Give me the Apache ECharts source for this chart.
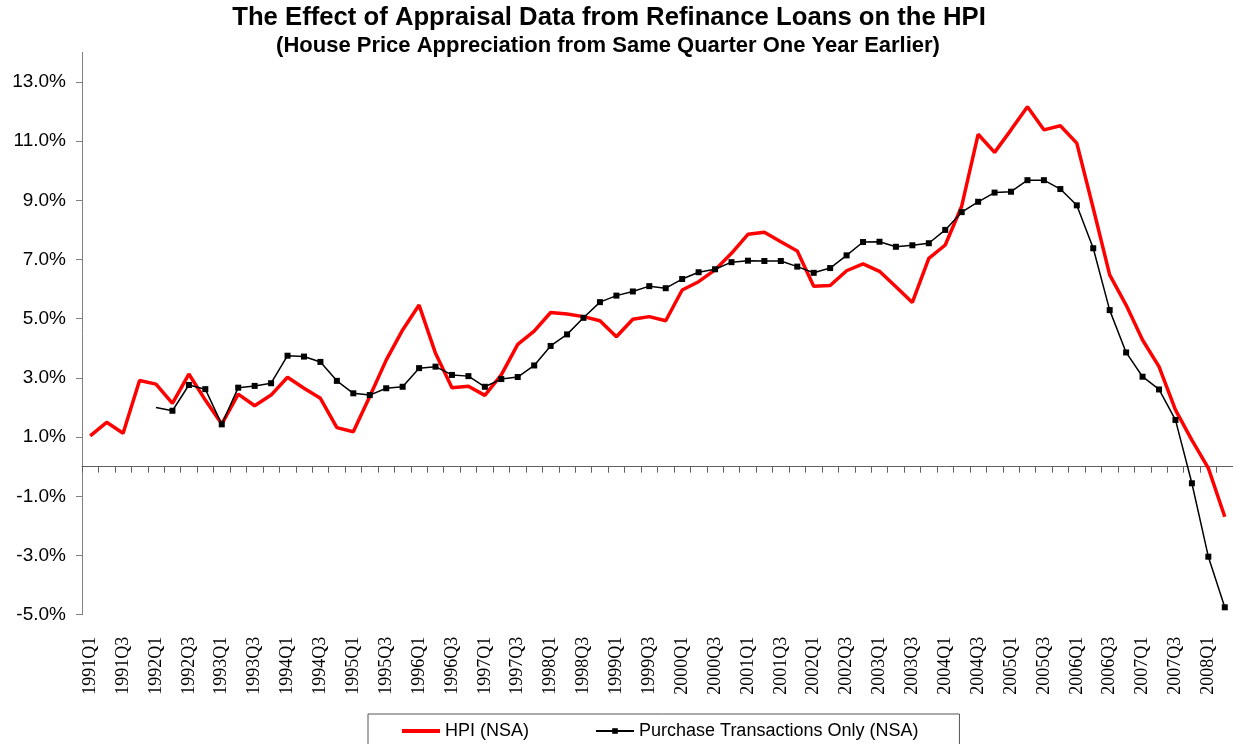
<!DOCTYPE html>
<html>
<head>
<meta charset="utf-8">
<script src="https://cdn.jsdelivr.net/npm/echarts@6/dist/echarts.min.js"></script>
<style>
  html, body { margin: 0; padding: 0; background: #fff; }
  #chart { width: 1233px; height: 744px; }
</style>
</head>
<body>
<div id="chart"></div>
<script>
const quarters = [
  "1991Q1", "1991Q2", "1991Q3", "1991Q4", "1992Q1", "1992Q2", "1992Q3", "1992Q4",
  "1993Q1", "1993Q2", "1993Q3", "1993Q4", "1994Q1", "1994Q2", "1994Q3", "1994Q4",
  "1995Q1", "1995Q2", "1995Q3", "1995Q4", "1996Q1", "1996Q2", "1996Q3", "1996Q4",
  "1997Q1", "1997Q2", "1997Q3", "1997Q4", "1998Q1", "1998Q2", "1998Q3", "1998Q4",
  "1999Q1", "1999Q2", "1999Q3", "1999Q4", "2000Q1", "2000Q2", "2000Q3", "2000Q4",
  "2001Q1", "2001Q2", "2001Q3", "2001Q4", "2002Q1", "2002Q2", "2002Q3", "2002Q4",
  "2003Q1", "2003Q2", "2003Q3", "2003Q4", "2004Q1", "2004Q2", "2004Q3", "2004Q4",
  "2005Q1", "2005Q2", "2005Q3", "2005Q4", "2006Q1", "2006Q2", "2006Q3", "2006Q4",
  "2007Q1", "2007Q2", "2007Q3", "2007Q4", "2008Q1", "2008Q2"
];

// year-over-year appreciation, percent
const hpiNsa = [
  1.04, 1.50, 1.13, 2.91, 2.79, 2.14, 3.13, 2.25,
  1.44, 2.45, 2.06, 2.42, 3.02, 2.65, 2.31, 1.32,
  1.18, 2.37, 3.60, 4.62, 5.46, 3.83, 2.67, 2.72,
  2.41, 3.10, 4.13, 4.58, 5.21, 5.16, 5.07, 4.93,
  4.39, 4.98, 5.07, 4.93, 5.97, 6.25, 6.65, 7.21,
  7.85, 7.92, 7.60, 7.29, 6.10, 6.12, 6.62, 6.85,
  6.60, 6.08, 5.55, 7.04, 7.49, 8.80, 11.23, 10.62,
  11.38, 12.16, 11.38, 11.52, 10.93, 8.73, 6.48, 5.46,
  4.28, 3.38, 1.92, 0.90, -0.05, -1.69
];

const purchaseOnly = [
  null, null, null, null, 2.00, 1.89, 2.76, 2.62,
  1.43, 2.67, 2.73, 2.82, 3.75, 3.72, 3.54, 2.90,
  2.48, 2.42, 2.65, 2.70, 3.33, 3.38, 3.10, 3.06,
  2.70, 2.96, 3.03, 3.42, 4.08, 4.47, 5.03, 5.56,
  5.78, 5.92, 6.10, 6.03, 6.34, 6.57, 6.67, 6.91,
  6.96, 6.95, 6.95, 6.76, 6.55, 6.71, 7.14, 7.59,
  7.60, 7.43, 7.48, 7.55, 8.00, 8.60, 8.95, 9.26,
  9.29, 9.68, 9.68, 9.38, 8.83, 7.38, 5.29, 3.86,
  3.04, 2.61, 1.58, -0.56, -3.04, -4.75
];

const yTicks = [-5, -3, -1, 1, 3, 5, 7, 9, 11, 13];

const chart = echarts.init(document.getElementById("chart"));

// the first purchase-only point is drawn without a marker in the original
const firstPurchase = purchaseOnly.findIndex((v) => v !== null);
const purchaseData = purchaseOnly.map((v, i) => {
  if (v === null) return "-";
  return i === firstPurchase ? { value: v, symbol: "none" } : v;
});

chart.setOption({
  animation: false,
  backgroundColor: "#fff",
  title: [
    {
      text: "The Effect of Appraisal Data from Refinance Loans on the HPI",
      left: 609,
      top: 5,
      padding: 0,
      textAlign: "center",
      textStyle: { fontFamily: "Liberation Sans", fontWeight: "bold", fontSize: 25.7, color: "#000" }
    },
    {
      text: "(House Price Appreciation from Same Quarter One Year Earlier)",
      left: 608,
      top: 35,
      padding: 0,
      textAlign: "center",
      textStyle: { fontFamily: "Liberation Sans", fontWeight: "bold", fontSize: 22, color: "#000" }
    }
  ],
  legend: {
    left: 368,
    top: 714,
    orient: "horizontal",
    padding: [8, 41, 12, 34],
    itemGap: 66,
    itemWidth: 38,
    itemHeight: 7,
    borderColor: "#555",
    borderWidth: 1,
    textStyle: { fontFamily: "Liberation Sans", fontSize: 18, color: "#000" },
    data: [
      { name: "HPI (NSA)", icon: "path://M0 0H38V4H0Z" },
      { name: "Purchase Transactions Only (NSA)" }
    ]
  },
  grid: { left: 82, right: -3, top: 52.3, bottom: 129.3 },
  xAxis: [
    {
      type: "category",
      data: quarters,
      boundaryGap: true,
      axisLine: { onZero: true, lineStyle: { color: "#606060", width: 1 } },
      axisTick: { show: true, interval: 0, length: 6, lineStyle: { color: "#606060" } },
      axisLabel: { show: false },
      splitLine: { show: false }
    },
    {
      type: "category",
      data: quarters,
      position: "bottom",
      boundaryGap: true,
      axisLine: { show: false, onZero: false },
      axisTick: { show: false },
      axisLabel: {
        interval: 1,
        rotate: 90,
        margin: 22,
        fontFamily: "Liberation Serif",
        fontSize: 18,
        color: "#000"
      },
      splitLine: { show: false }
    }
  ],
  yAxis: {
    type: "value",
    min: -5,
    max: 14,
    axisLine: { show: true, lineStyle: { color: "#808080", width: 1 } },
    axisTick: { show: true, length: 6, customValues: yTicks, lineStyle: { color: "#808080" } },
    axisLabel: {
      customValues: yTicks,
      margin: 16,
      formatter: (v) => v.toFixed(1) + "%",
      fontFamily: "Liberation Sans",
      fontSize: 19,
      color: "#000"
    },
    splitLine: { show: false }
  },
  series: [
    {
      name: "HPI (NSA)",
      type: "line",
      xAxisIndex: 0,
      data: hpiNsa,
      symbol: "none",
      lineStyle: { color: "#ff0000", width: 3.5 },
      itemStyle: { color: "#ff0000" },
      z: 3
    },
    {
      name: "Purchase Transactions Only (NSA)",
      type: "line",
      xAxisIndex: 0,
      data: purchaseData,
      symbol: "rect",
      symbolSize: 6,
      showAllSymbol: true,
      lineStyle: { color: "#000", width: 1.5 },
      itemStyle: { color: "#000" },
      z: 4
    }
  ]
});
</script>
</body>
</html>
